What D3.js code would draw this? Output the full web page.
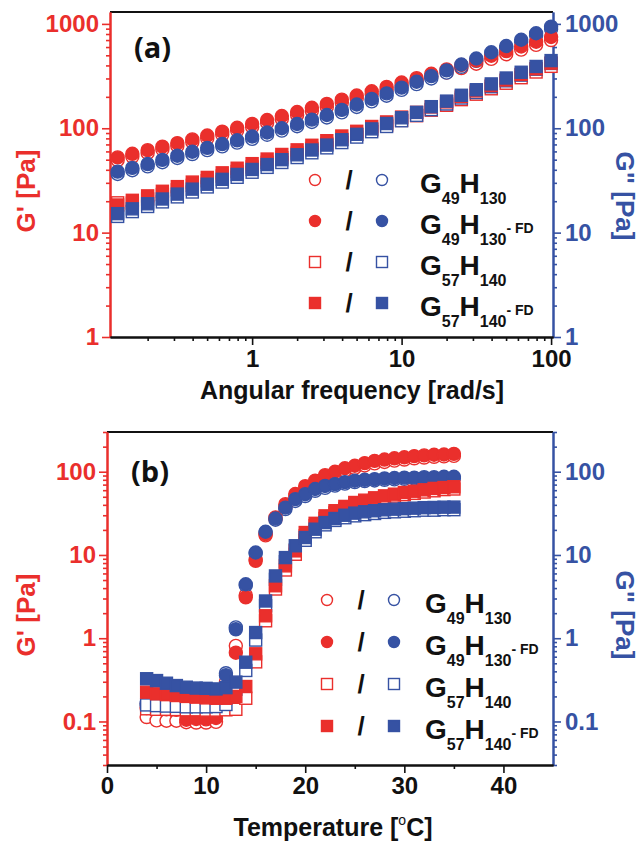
<!DOCTYPE html>
<html>
<head>
<meta charset="utf-8">
<script src="https://cdn.jsdelivr.net/npm/d3@7"></script>
<style>
  body { margin: 0; background: #fff; }
  svg text { font-family: "Liberation Sans", Arial, sans-serif; font-weight: bold; }
</style>
</head>
<body>
<svg id="chart" width="641" height="843"></svg>
<script>
const RED = "#ea2f2c";
const BLUE = "#3652a3";

// ---- panel (a): frequency sweep ----
const freq = [0.126, 0.158, 0.2, 0.251, 0.316, 0.398, 0.501, 0.631, 0.794, 1,
  1.26, 1.58, 2, 2.51, 3.16, 3.98, 5.01, 6.31, 7.94, 10,
  12.6, 15.8, 20, 25.1, 31.6, 39.8, 50.1, 63.1, 79.4, 100];

const aG49_Gp = [49.5, 53.5, 58, 62.7, 67.8, 73.5, 80, 87, 95, 103, 113, 123, 134, 147, 160,
  176, 193, 212, 233, 256, 282, 311, 342, 377, 415, 462, 512, 567, 630, 700];
const aG49_Gpp = [36.5, 39.6, 43.1, 47.3, 51.9, 56.6, 61.7, 67.1, 72.9, 79.2, 86.6, 95, 104.5, 115, 127,
  142, 160, 181, 205, 233, 265, 300, 341, 388, 443, 508, 583, 670, 772, 893];
const aG49FD_Gp = [52.6, 56.9, 61.7, 66.7, 72.1, 78.2, 85.1, 92.7, 101, 110, 120, 131, 143, 157, 171,
  188, 206, 226, 249, 274, 302, 333, 366, 404, 445, 495, 548, 607, 675, 750];
const aG49FD_Gpp = [38.4, 41.7, 45.4, 49.8, 54.6, 59.6, 64.9, 70.6, 76.7, 83.4, 91.2, 100, 110, 121, 134,
  150, 169, 191, 216, 245, 279, 316, 359, 408, 466, 535, 614, 705, 813, 940];
const aG57_Gp = [19.3, 19.2, 21, 23.2, 25.7, 28.4, 31.4, 34.8, 38.5, 42.6, 47.2, 52.2, 57.8, 63.9, 70.7,
  78.4, 87, 96.7, 107, 119, 132, 149, 166, 188, 212, 239, 270, 305, 346, 392];
const aG57_Gpp = [14.3, 15.9, 17.8, 19.7, 22, 24.5, 27.4, 30.5, 33.9, 37.9, 42.2, 47, 52.4, 58.2, 64.9,
  72.9, 82.3, 92.7, 104, 118, 133, 151, 171, 195, 220, 250, 285, 323, 368, 418];
const aG57FD_Gp = [18.4, 20.4, 22.5, 24.9, 27.6, 30.5, 33.8, 37.4, 41.4, 45.8, 50.7, 56.1, 62.1, 68.7, 76,
  84.3, 93.5, 104, 115, 128, 142, 160, 179, 202, 228, 257, 290, 328, 372, 421];
const aG57FD_Gpp = [15.2, 16.9, 18.9, 21, 23.4, 26.1, 29.1, 32.4, 36.1, 40.3, 44.9, 50, 55.7, 61.9, 69,
  77.6, 87.5, 98.6, 111, 126, 142, 161, 182, 207, 234, 266, 303, 344, 391, 445];

// ---- panel (b): temperature sweep ----
const temp = [4, 5, 6, 7, 8, 9, 10, 11, 12, 13, 14, 15, 16, 17, 18, 19,
  20, 21, 22, 23, 24, 25, 26, 27, 28, 29, 30, 31, 32, 33, 34, 35];

const bG49_Gp = [0.113, 0.103, 0.102, 0.102, 0.098, 0.097, 0.097, 0.099, 0.30, 0.81, 3.3, 8.8, 17.2, 27, 38, 51,
  62, 73, 85, 94, 103, 111, 119, 126, 131, 136, 140, 145, 148, 151, 153, 155];
const bG49_Gpp = [0.165, 0.158, 0.155, 0.155, 0.152, 0.152, 0.153, 0.155, 0.38, 1.35, 4.3, 10.4, 18.6, 26.5, 35.5, 44.5,
  51, 59, 64, 68, 72, 75, 77, 78.5, 80, 81, 82, 82.5, 83, 83.5, 84, 84];
const bG49FD_Gp = [0.145, 0.142, 0.140, 0.138, 0.105, 0.107, 0.106, 0.110, 0.142, 0.67, 3.1, 8.5, 17.8, 28.3, 40.8, 54,
  67, 78, 91, 100, 110, 118, 127, 135, 140, 145, 149, 154, 157, 160, 161, 164];
const bG49FD_Gpp = [0.156, 0.148, 0.146, 0.145, 0.144, 0.143, 0.144, 0.146, 0.36, 1.28, 4.45, 10.7, 19, 27.4, 37, 46.8,
  53.7, 62, 67.5, 71, 75, 78, 80, 81.5, 83, 84, 85, 85, 86, 86, 87, 87];
const bG57_Gp = [0.142, 0.140, 0.140, 0.139, 0.138, 0.138, 0.137, 0.137, 0.138, 0.14, 0.19, 0.52, 1.62, 3.9, 6.6, 10.2,
  17, 22.5, 27.5, 32, 36, 40, 43, 46, 48.5, 51, 53, 55, 57, 59, 61, 62];
const bG57_Gpp = [0.158, 0.155, 0.153, 0.152, 0.150, 0.150, 0.150, 0.151, 0.16, 0.244, 0.41, 0.95, 2.46, 5.1, 8.3, 11.5,
  15, 19, 23, 26, 28, 29.5, 30.5, 31.5, 32.5, 33, 33.5, 34, 34.5, 34.5, 35, 35];
const bG57FD_Gp = [0.225, 0.215, 0.21, 0.205, 0.2, 0.196, 0.192, 0.19, 0.19, 0.2, 0.263, 0.65, 1.86, 4.27, 7.4, 11.2,
  18.6, 24, 29.5, 34, 38.3, 42.7, 45.5, 48.6, 51.3, 53.7, 56.3, 58.3, 60.6, 63, 64.6, 66];
const bG57FD_Gpp = [0.326, 0.31, 0.288, 0.27, 0.258, 0.252, 0.25, 0.246, 0.255, 0.297, 0.515, 1.17, 2.8, 5.6, 9.3, 12.9,
  16.2, 20.4, 24.5, 27.4, 30, 31.8, 33, 34, 34.9, 35.5, 36, 36.5, 37, 37.2, 37.5, 37.6];

// legend rows and tick labels
const legendRows = [
  { sub1: "49", sub2: "130", fd: false, shape: "circle", filled: false },
  { sub1: "49", sub2: "130", fd: true, shape: "circle", filled: true },
  { sub1: "57", sub2: "140", fd: false, shape: "square", filled: false },
  { sub1: "57", sub2: "140", fd: true, shape: "square", filled: true },
];
const aYMajor = [1, 10, 100, 1000];
const aXMajor = [1, 10, 100];
const bYMajor = [0.1, 1, 10, 100];
const bXMajor = [0, 10, 20, 30, 40];
const bXMinor = [5, 15, 25, 35];

const svg = d3.select("#chart");

function marker(g, shape, filled, color, cx, cy, size) {
  const fill = filled ? color : "#fff";
  if (shape === "circle") {
    g.append("circle").attr("cx", cx).attr("cy", cy).attr("r", size / 2)
      .attr("fill", fill).attr("stroke", color).attr("stroke-width", 1.4);
  } else {
    g.append("rect").attr("x", cx - size / 2).attr("y", cy - size / 2)
      .attr("width", size).attr("height", size)
      .attr("fill", fill).attr("stroke", color).attr("stroke-width", 1.4);
  }
}

function styleAxis(sel, color) {
  sel.attr("font-size", 24).attr("font-family", null);
  sel.select(".domain").attr("stroke", color).attr("stroke-width", 2);
  sel.selectAll(".tick line").attr("stroke", color).attr("stroke-width", 1.6);
  sel.selectAll(".tick text").attr("fill", color);
}

function axisPair(g, axisFn, scale, majors, minors, color, fmt, transform, pad) {
  const gm = g.append("g").attr("transform", transform)
    .call(axisFn(scale).tickValues(minors).tickSize(4).tickSizeOuter(0).tickFormat(""));
  const gM = g.append("g").attr("transform", transform)
    .call(axisFn(scale).tickValues(majors).tickSize(8).tickSizeOuter(0).tickPadding(pad).tickFormat(fmt));
  styleAxis(gm, color);
  styleAxis(gM, color);
}

function drawPanel(p) {
  const g = svg.append("g");
  const { x, y } = p;
  const [left, right] = x.range();
  const [bottom, top] = y.range();

  // top frame line
  g.append("line").attr("x1", left).attr("x2", right).attr("y1", top).attr("y2", top)
    .attr("stroke", "#111").attr("stroke-width", 2);

  const yMinor = y.ticks().filter((v) => !p.yMajor.some((m) => Math.abs(m - v) < 1e-9));
  const fmtY = (d) => String(d);
  axisPair(g, d3.axisLeft, y, p.yMajor, yMinor, RED, fmtY, `translate(${left},0)`, 3);
  axisPair(g, d3.axisRight, y, p.yMajor, yMinor, BLUE, fmtY, `translate(${right},0)`, 4);
  axisPair(g, d3.axisBottom, x, p.xMajor, p.xMinor, "#111", (d) => String(d), `translate(0,${bottom})`, p.xPad);

  // data: open markers first, then filled, circles then squares
  p.series.forEach((s) => {
    const mg = g.append("g");
    s.values.forEach((v, i) => marker(mg, s.shape, s.filled, s.color, x(p.xs[i]), y(v), s.shape === "circle" ? 13 : 12));
  });

  // legend
  const L = p.legend;
  legendRows.forEach((r, i) => {
    const cy = L.y0 + i * L.dy;
    marker(g, r.shape, r.filled, RED, L.xRed, cy, 11);
    g.append("text").attr("x", L.xSlash).attr("y", cy + 9).attr("text-anchor", "middle")
      .attr("font-size", 26).attr("fill", "#111").text("/");
    marker(g, r.shape, r.filled, BLUE, L.xBlue, cy, 11);
    const t = g.append("text").attr("x", L.xText).attr("y", cy + 13)
      .attr("font-size", 28).attr("fill", "#111");
    t.append("tspan").text("G");
    t.append("tspan").attr("y", cy + 24).attr("font-size", 16).text(r.sub1);
    t.append("tspan").attr("y", cy + 13).text("H");
    t.append("tspan").attr("y", cy + 24).attr("font-size", 16).text(r.sub2);
    if (r.fd) t.append("tspan").attr("y", cy + 12).attr("font-size", 14).text("- FD");
  });

  // panel label
  g.append("text").attr("x", p.label.x).attr("y", p.label.y)
    .style("font-family", '"Open Sans", sans-serif').attr("font-size", 29).attr("fill", "#111")
    .text(p.label.text);

  // y titles
  g.append("text").attr("transform", `translate(${p.yTitleL.x},${p.yTitleL.y}) rotate(-90)`)
    .attr("text-anchor", "middle").attr("dy", "0.36em").attr("font-size", 26).attr("fill", RED)
    .text("G' [Pa]");
  g.append("text").attr("transform", `translate(${p.yTitleR.x},${p.yTitleR.y}) rotate(90)`)
    .attr("text-anchor", "middle").attr("dy", "0.36em").attr("font-size", 26).attr("fill", BLUE)
    .text('G" [Pa]');

  // x title
  const xt = g.append("text").attr("x", p.xTitle.x).attr("y", p.xTitle.y)
    .attr("text-anchor", "middle").attr("font-size", 25).attr("fill", "#111");
  p.xTitle.build(xt);
}

const panelA = {
  x: d3.scaleLog().domain([0.112, 103]).range([110, 553]),
  y: d3.scaleLog().domain([1, 1300]).range([337, 12]),
  xMajor: aXMajor,
  xMinor: [],
  yMajor: aYMajor,
  xPad: 5,
  xs: freq,
  series: [
    { values: aG49_Gp, color: RED, shape: "circle", filled: false },
    { values: aG49_Gpp, color: BLUE, shape: "circle", filled: false },
    { values: aG49FD_Gp, color: RED, shape: "circle", filled: true },
    { values: aG49FD_Gpp, color: BLUE, shape: "circle", filled: true },
    { values: aG57_Gp, color: RED, shape: "square", filled: false },
    { values: aG57_Gpp, color: BLUE, shape: "square", filled: false },
    { values: aG57FD_Gp, color: RED, shape: "square", filled: true },
    { values: aG57FD_Gpp, color: BLUE, shape: "square", filled: true },
  ],
  legend: { y0: 180, dy: 41, xRed: 315, xSlash: 349, xBlue: 382, xText: 420 },
  label: { x: 134, y: 58, text: "(a)" },
  yTitleL: { x: 26, y: 191 },
  yTitleR: { x: 625, y: 196 },
  xTitle: { x: 352, y: 399, build: (t) => t.text("Angular frequency [rad/s]") },
};
panelA.xMinor = panelA.x.ticks().filter((v) => !aXMajor.some((m) => Math.abs(m - v) < 1e-9));

const panelB = {
  x: d3.scaleLinear().domain([0, 45]).range([107, 553]),
  y: d3.scaleLog().domain([0.03, 300]).range([765, 432]),
  xMajor: bXMajor,
  xMinor: bXMinor,
  yMajor: bYMajor,
  xPad: 4,
  xs: temp,
  series: [
    { values: bG49_Gp, color: RED, shape: "circle", filled: false },
    { values: bG49_Gpp, color: BLUE, shape: "circle", filled: false },
    { values: bG49FD_Gp, color: RED, shape: "circle", filled: true },
    { values: bG49FD_Gpp, color: BLUE, shape: "circle", filled: true },
    { values: bG57_Gp, color: RED, shape: "square", filled: false },
    { values: bG57_Gpp, color: BLUE, shape: "square", filled: false },
    { values: bG57FD_Gp, color: RED, shape: "square", filled: true },
    { values: bG57FD_Gpp, color: BLUE, shape: "square", filled: true },
  ],
  legend: { y0: 600, dy: 42, xRed: 327, xSlash: 361, xBlue: 394, xText: 425 },
  label: { x: 131, y: 482, text: "(b)" },
  yTitleL: { x: 26, y: 615 },
  yTitleR: { x: 625, y: 615 },
  xTitle: {
    x: 333, y: 836,
    build: (t) => {
      t.append("tspan").text("Temperature [");
      t.append("tspan").attr("font-size", 14).attr("font-weight", "normal").attr("dy", -11).text("o");
      t.append("tspan").attr("dy", 11).text("C]");
    },
  },
};

drawPanel(panelA);
drawPanel(panelB);
</script>
</body>
</html>
